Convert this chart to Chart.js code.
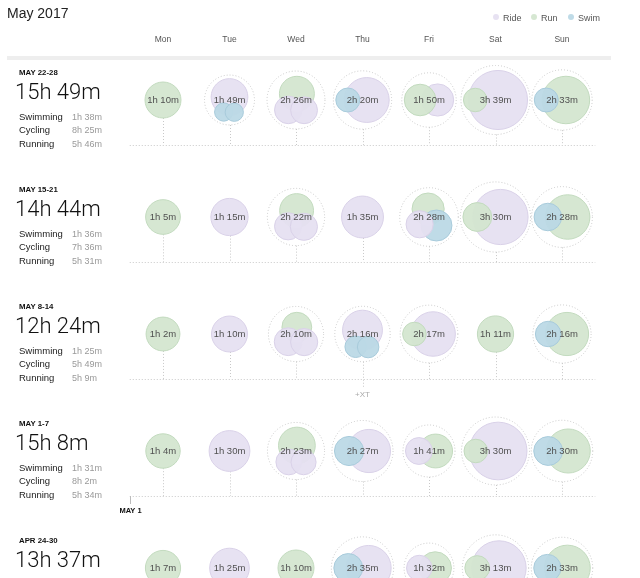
<!DOCTYPE html>
<html>
<head>
<meta charset="utf-8">
<script src="https://cdn.jsdelivr.net/npm/chart.js@4.4.1/dist/chart.umd.min.js"></script>
<style>
  html, body { margin: 0; padding: 0; background: #fff; }
  #wrap { width: 640px; height: 578px; position: relative; }
</style>
</head>
<body>
<div id="wrap"><canvas id="cal" width="640" height="578"></canvas></div>
<script>
const monthTitle = 'May 2017';
const days = ['Mon', 'Tue', 'Wed', 'Thu', 'Fri', 'Sat', 'Sun'];
const weekLabels = ['MAY 22-28', 'MAY 15-21', 'MAY 8-14', 'MAY 1-7', 'APR 24-30'];
const weekTotals = ['15h 49m', '14h 44m', '12h 24m', '15h 8m', '13h 37m'];
const weekSwimming = ['1h 38m', '1h 36m', '1h 25m', '1h 31m', ''];
const weekCycling = ['8h 25m', '7h 36m', '5h 49m', '8h 2m', ''];
const weekRunning = ['5h 46m', '5h 31m', '5h 9m', '5h 34m', ''];

// minutes per activity, one list per day Mon..Sun
const may22 = [
  [['run', 70]],
  [['ride', 73], ['swim', 18], ['swim', 18]],
  [['run', 66], ['ride', 41], ['ride', 39]],
  [['swim', 31], ['ride', 109]],
  [['run', 54], ['ride', 56]],
  [['run', 30], ['ride', 189]],
  [['swim', 31], ['run', 122]]
];
const may15 = [
  [['run', 65]],
  [['ride', 75]],
  [['run', 62], ['ride', 40], ['ride', 40]],
  [['ride', 95]],
  [['run', 56], ['ride', 40], ['swim', 52]],
  [['run', 45], ['ride', 165]],
  [['swim', 41], ['run', 107]]
];
const may8 = [
  [['run', 62]],
  [['ride', 70]],
  [['run', 48], ['ride', 42], ['ride', 40]],
  [['ride', 86], ['swim', 25], ['swim', 25]],
  [['run', 30], ['ride', 107]],
  [['run', 71]],
  [['swim', 35], ['run', 101]]
];
const may1 = [
  [['run', 64]],
  [['ride', 90]],
  [['run', 73], ['ride', 36], ['ride', 34]],
  [['swim', 46], ['ride', 101]],
  [['ride', 39], ['run', 62]],
  [['run', 30], ['ride', 180]],
  [['swim', 45], ['run', 105]]
];
const apr24 = [
  [['run', 67]],
  [['ride', 85]],
  [['run', 70]],
  [['swim', 45], ['ride', 110]],
  [['ride', 35], ['run', 57]],
  [['run', 33], ['ride', 160]],
  [['swim', 40], ['run', 113]]
];
const weeks = [may22, may15, may8, may1, apr24];

const legendKeys = ['ride', 'run', 'swim'];
const legendNames = ['Ride', 'Run', 'Swim'];
const notes = [{ week: 2, day: 3, text: '+XT' }];
const markers = [{ week: 3, day: 0, text: 'MAY 1' }];

// look
const fills = { ride: 'rgba(230,224,241,0.95)', run: 'rgba(212,230,208,0.95)', swim: 'rgba(188,217,230,0.95)' };
const borders = { ride: '#d9d1e8', run: '#c2dabe', swim: '#a8cbdb' };
const FONT = '"Helvetica Neue", Helvetica, "Liberation Sans", Arial, sans-serif';
const COL0 = 163, COL_W = 66.5, ROW0 = 100, ROW_H = 117;
const BASE = 45;

const radius = m => 2.15 * Math.sqrt(m);
const fmt = m => Math.floor(m / 60) + 'h ' + (m % 60) + 'm';

// loose packing: circles may overlap up to half their radii
function packDay(acts) {
  const c = acts.map(([type, min]) => ({ type, min, r: radius(min), dx: 0, dy: 0 }));
  if (c.length === 2) {
    const d = 0.55 * (c[0].r + c[1].r);
    c[0].dx = -d / 2; c[1].dx = d / 2;
  } else if (c.length > 2) {
    c[0].dy = -10; c[1].dx = -6; c[1].dy = 8; c[2].dx = 6; c[2].dy = 8;
    for (let it = 0; it < 400; it++) {
      c.forEach(p => { p.dx *= 0.97; p.dy *= 0.97; });
      for (let i = 0; i < c.length; i++) {
        for (let j = i + 1; j < c.length; j++) {
          const a = c[i], b = c[j];
          const need = 0.58 * (a.r + b.r);
          let vx = b.dx - a.dx, vy = b.dy - a.dy;
          const dist = Math.hypot(vx, vy) || 0.001;
          if (dist < need) {
            const push = (need - dist) / 2;
            vx /= dist; vy /= dist;
            a.dx -= vx * push; a.dy -= vy * push;
            b.dx += vx * push; b.dy += vy * push;
          }
        }
      }
    }
  }
  const x0 = Math.min(...c.map(p => p.dx - p.r)), x1 = Math.max(...c.map(p => p.dx + p.r));
  const y0 = Math.min(...c.map(p => p.dy - p.r)), y1 = Math.max(...c.map(p => p.dy + p.r));
  const cx = (x0 + x1) / 2, cy = (y0 + y1) / 2;
  c.forEach(p => { p.dx -= cx; p.dy -= cy; });
  const R = Math.max(...c.map(p => Math.hypot(p.dx, p.dy) + p.r));
  return { circles: c, R, total: c.reduce((s, p) => s + p.min, 0) };
}

const groups = [];
weeks.forEach((wk, w) => wk.forEach((acts, d) => groups.push(Object.assign({ week: w, day: d }, packDay(acts)))));

const points = groups.flatMap(g => g.circles.map(p => ({
  x: g.day + p.dx / COL_W,
  y: g.week + p.dy / ROW_H,
  r: p.r,
  type: p.type
})));
points.sort((a, b) => b.r - a.r); // small ones on top

function dotted(ctx, x1, y1, x2, y2) {
  ctx.beginPath();
  ctx.moveTo(x1, y1);
  ctx.lineTo(x2, y2);
  ctx.stroke();
}

const calendarPlugin = {
  id: 'calendar',
  beforeDatasetsDraw(chart) {
    const { ctx, scales: { x, y } } = chart;
    ctx.save();

    ctx.fillStyle = '#222';
    ctx.font = '14px ' + FONT;
    ctx.textBaseline = 'alphabetic';
    ctx.fillText(monthTitle, 7, 18);

    // legend
    let lx = 496;
    ctx.font = '9px ' + FONT;
    legendKeys.forEach((k, i) => {
      ctx.fillStyle = fills[k];
      ctx.beginPath();
      ctx.arc(lx, 17, 3, 0, Math.PI * 2);
      ctx.fill();
      ctx.fillStyle = '#555';
      ctx.fillText(legendNames[i], lx + 7, 20.5);
      lx += i === 0 ? 38 : 37;
    });

    ctx.textAlign = 'center';
    ctx.font = '8.5px ' + FONT;
    ctx.fillStyle = '#555';
    days.forEach((d, i) => ctx.fillText(d, x.getPixelForValue(i), 42));

    ctx.fillStyle = '#eeeeee';
    ctx.fillRect(7, 56, 604, 4);

    // left panel per week
    ctx.textAlign = 'left';
    weekLabels.forEach((lab, w) => {
      const cy = y.getPixelForValue(w);
      ctx.fillStyle = '#111';
      ctx.font = 'bold 7.8px ' + FONT;
      ctx.fillText(lab, 19, cy - 25);
      ctx.font = '300 22px Roboto, ' + FONT;
      ctx.fillText(weekTotals[w], 15, cy - 1);
      const rows = [['Swimming', weekSwimming[w]], ['Cycling', weekCycling[w]], ['Running', weekRunning[w]]];
      rows.forEach(([name, val], k) => {
        if (!val) return;
        const by = cy + 19.5 + k * 13.6;
        ctx.font = '9.5px ' + FONT;
        ctx.fillStyle = '#222';
        ctx.fillText(name, 19, by);
        ctx.fillStyle = '#999';
        ctx.font = '9px ' + FONT;
        ctx.fillText(val, 72, by);
      });
    });

    // baselines, stems, enclosures
    ctx.strokeStyle = '#c8c8c8';
    ctx.lineWidth = 1;
    ctx.setLineDash([1, 2]);
    weeks.forEach((wk, w) => {
      const by = Math.round(y.getPixelForValue(w) + BASE) + 0.5;
      dotted(ctx, x.getPixelForValue(-0.5), by, x.getPixelForValue(days.length - 0.5), by);
    });
    groups.forEach(g => {
      const cx = x.getPixelForValue(g.day), cy = y.getPixelForValue(g.week);
      const multi = g.circles.length > 1;
      const ring = multi ? g.R + 2.5 : g.R;
      const note = notes.find(n => n.week === g.week && n.day === g.day);
      const sx = Math.round(cx) + 0.5;
      dotted(ctx, sx, cy + ring, sx, cy + BASE + (note ? 8 : 0));
      if (multi) {
        ctx.beginPath();
        ctx.arc(cx, cy, ring, 0, Math.PI * 2);
        ctx.stroke();
      }
    });
    ctx.setLineDash([]);

    notes.forEach(n => {
      ctx.fillStyle = '#aaa';
      ctx.font = '8px ' + FONT;
      ctx.textAlign = 'center';
      ctx.fillText(n.text, x.getPixelForValue(n.day), y.getPixelForValue(n.week) + BASE + 18);
    });
    markers.forEach(m => {
      const mx = Math.round(x.getPixelForValue(m.day - 0.5)) + 0.5;
      const by = Math.round(y.getPixelForValue(m.week) + BASE);
      ctx.strokeStyle = '#bbb';
      dotted(ctx, mx, by, mx, by + 8);
      ctx.fillStyle = '#111';
      ctx.font = 'bold 7.5px ' + FONT;
      ctx.textAlign = 'center';
      ctx.fillText(m.text, mx, by + 17);
    });
    ctx.restore();
  },
  afterDatasetsDraw(chart) {
    const { ctx, scales: { x, y } } = chart;
    ctx.save();
    ctx.font = '9.5px ' + FONT;
    ctx.fillStyle = '#505050';
    ctx.textAlign = 'center';
    ctx.textBaseline = 'middle';
    groups.forEach(g => {
      ctx.fillText(fmt(g.total), x.getPixelForValue(g.day), y.getPixelForValue(g.week) + 0.5);
    });
    ctx.restore();
  }
};

new Chart(document.getElementById('cal'), {
  type: 'bubble',
  data: {
    datasets: [{
      label: 'Training',
      data: points,
      backgroundColor: c => fills[c.raw.type],
      borderColor: c => borders[c.raw.type],
      borderWidth: 1,
      hoverRadius: 0,
      clip: false
    }]
  },
  options: {
    responsive: false,
    animation: false,
    events: [],
    layout: { padding: 0, autoPadding: false },
    plugins: { legend: { display: false }, tooltip: { enabled: false } },
    scales: {
      x: { type: 'linear', display: false, min: -COL0 / COL_W, max: (640 - COL0) / COL_W },
      y: { type: 'linear', display: false, reverse: true, min: -ROW0 / ROW_H, max: (578 - ROW0) / ROW_H }
    }
  },
  plugins: [calendarPlugin]
});
</script>
</body>
</html>
